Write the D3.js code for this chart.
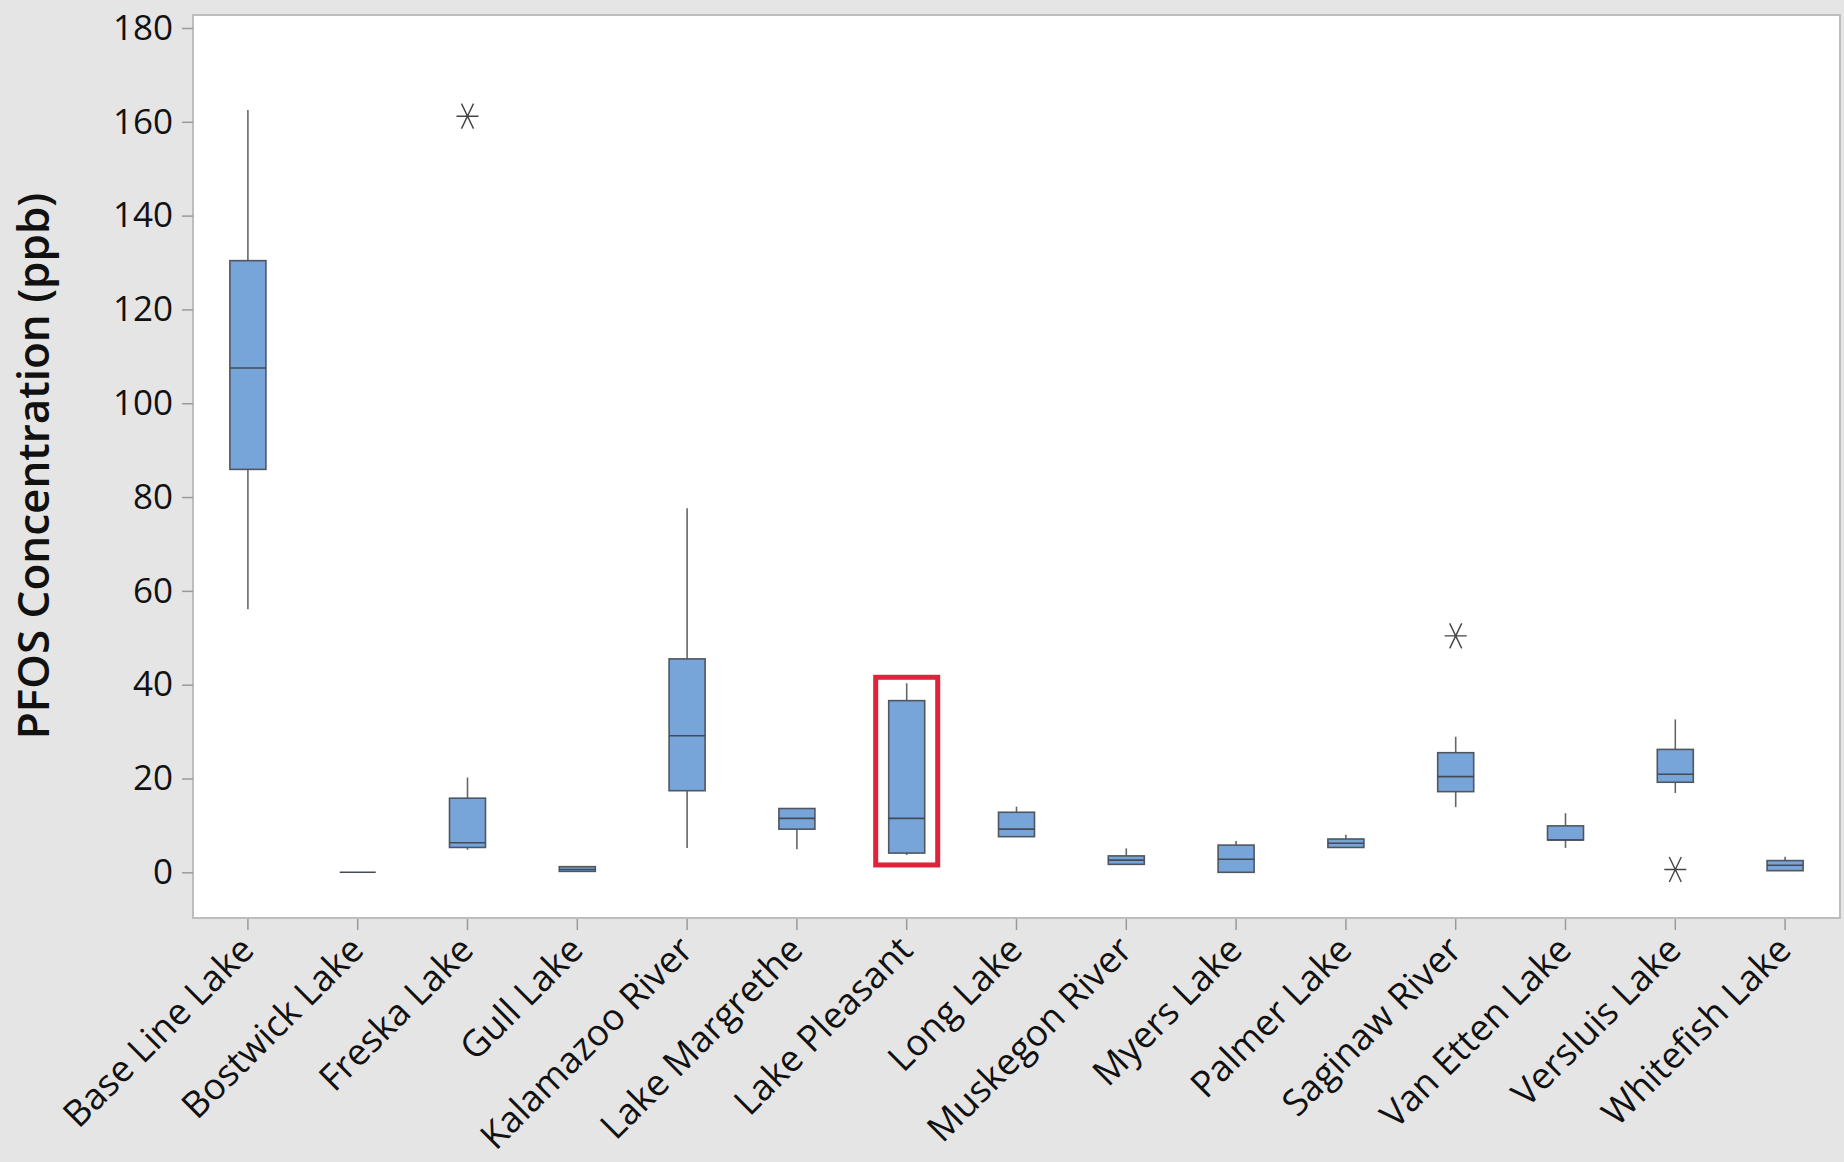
<!DOCTYPE html>
<html>
<head>
<meta charset="utf-8">
<script src="https://cdn.jsdelivr.net/npm/d3@7"></script>
<style>
  html, body { margin: 0; padding: 0; background: #e5e5e5; }
  svg { display: block; font-family: "Open Sans", "Noto Sans", sans-serif; }
</style>
</head>
<body>
<svg id="chart" width="1844" height="1162"></svg>
<script>
// Sampling sites
const sites = [
  "Base Line Lake", "Bostwick Lake", "Freska Lake", "Gull Lake", "Kalamazoo River",
  "Lake Margrethe", "Lake Pleasant", "Long Lake", "Muskegon River", "Myers Lake",
  "Palmer Lake", "Saginaw River", "Van Etten Lake", "Versluis Lake", "Whitefish Lake"
];

// Five-number summaries of PFOS concentration (ppb) per site
const whiskerLow  = [56.1, 0, 4.8, 0.2, 5.2, 4.9, 3.7, 7.6, 1.7, 0, 5.3, 13.9, 5.2, 16.9, 0.35];
const q1          = [85.9, 0, 5.3, 0.2, 17.4, 9.2, 4.1, 7.6, 1.7, 0, 5.3, 17.2, 6.9, 19.2, 0.35];
const medians     = [107.5, 0, 6.3, 0.6, 29.1, 11.5, 11.5, 9.2, 2.6, 2.8, 6.2, 20.4, 6.9, 20.9, 1.5];
const q3          = [130.4, 0, 15.8, 1.2, 45.5, 13.6, 36.6, 12.8, 3.5, 5.8, 7.1, 25.5, 9.9, 26.2, 2.5];
const whiskerHigh = [162.5, 0, 20.2, 1.2, 77.6, 13.6, 40.3, 14.0, 5.1, 6.7, 8.0, 28.9, 12.6, 32.6, 3.3];

// Outlying observations: [site, value]
const outliers = [
  ["Freska Lake", 161.2],
  ["Saginaw River", 50.4],
  ["Versluis Lake", 0.6]
];

// Y-axis tick values
const yTicks = [0, 20, 40, 60, 80, 100, 120, 140, 160, 180];

// Highlighted site
const highlighted = "Lake Pleasant";

const svg = d3.select("#chart");
const W = 1844, H = 1162;
const plot = { left: 193, top: 15, right: 1840, bottom: 918 };

svg.append("rect").attr("width", W).attr("height", H).attr("fill", "#e5e5e5");

const x = d3.scaleBand().domain(sites).range([plot.left, plot.right]).padding(0);
const y = d3.scaleLinear().domain([-9.74, 182.77]).range([plot.bottom, plot.top]);

// Plot area
svg.append("rect")
  .attr("x", plot.left).attr("y", plot.top)
  .attr("width", plot.right - plot.left).attr("height", plot.bottom - plot.top)
  .attr("fill", "#ffffff").attr("stroke", "#bdbdbd").attr("stroke-width", 2);

// Y axis
const yAxis = svg.append("g")
  .attr("transform", `translate(${plot.left},0)`)
  .call(d3.axisLeft(y).tickValues(yTicks).tickSize(11).tickSizeOuter(0).tickPadding(9));
yAxis.select(".domain").remove();
yAxis.selectAll(".tick line").attr("stroke", "#9a9a9a").attr("stroke-width", 1.5);
yAxis.selectAll(".tick text")
  .attr("fill", "#111").attr("font-size", 35).attr("font-family", "'Open Sans', sans-serif");

// X axis
const xAxis = svg.append("g")
  .attr("transform", `translate(0,${plot.bottom + 1})`)
  .call(d3.axisBottom(x).tickSize(11).tickSizeOuter(0));
xAxis.select(".domain").remove();
xAxis.selectAll(".tick line").attr("stroke", "#9a9a9a").attr("stroke-width", 1.5);
xAxis.selectAll(".tick text")
  .attr("fill", "#111").attr("font-size", 36.5).attr("font-family", "'Open Sans', sans-serif")
  .attr("text-anchor", "end")
  .attr("x", 0).attr("y", 0).attr("dy", "0.35em")
  .attr("transform", "translate(-1,24) rotate(-45)");

// Y-axis title
svg.append("text")
  .attr("transform", `translate(49,466) rotate(-90)`)
  .attr("text-anchor", "middle")
  .attr("font-size", 44).attr("font-weight", 600).attr("fill", "#111")
  .text("PFOS Concentration (ppb)");

// Box plots
const boxW = 36;
const stats = sites.map((s, i) => ({
  site: s, lo: whiskerLow[i], q1: q1[i], med: medians[i], q3: q3[i], hi: whiskerHigh[i]
}));

const g = svg.append("g");
const boxes = g.selectAll("g.box").data(stats).join("g").attr("class", "box");
const cx = d => x(d.site) + x.bandwidth() / 2;

boxes.append("line")
  .attr("x1", cx).attr("x2", cx)
  .attr("y1", d => y(d.q3)).attr("y2", d => y(d.hi))
  .attr("stroke", "#666").attr("stroke-width", 1.6);
boxes.append("line")
  .attr("x1", cx).attr("x2", cx)
  .attr("y1", d => y(d.q1)).attr("y2", d => y(d.lo))
  .attr("stroke", "#666").attr("stroke-width", 1.6);
boxes.append("rect")
  .attr("x", d => cx(d) - boxW / 2).attr("width", boxW)
  .attr("y", d => y(d.q3)).attr("height", d => y(d.q1) - y(d.q3))
  .attr("fill", "#78a5d9").attr("stroke", "#4f5660").attr("stroke-width", 1.6);
boxes.append("line")
  .attr("x1", d => cx(d) - boxW / 2).attr("x2", d => cx(d) + boxW / 2)
  .attr("y1", d => y(d.med)).attr("y2", d => y(d.med))
  .attr("stroke", "#454b55").attr("stroke-width", 1.6);

// Outlier asterisks
const star = "M-11,0H11M-6,-12.5L6,12.5M6,-12.5L-6,12.5";
g.selectAll("path.outlier").data(outliers).join("path")
  .attr("class", "outlier")
  .attr("d", star)
  .attr("transform", d => `translate(${x(d[0]) + x.bandwidth() / 2},${y(d[1])})`)
  .attr("fill", "none").attr("stroke", "#444").attr("stroke-width", 1.4);

// Highlight frame around one site
const hi = stats.find(d => d.site === highlighted);
svg.append("rect")
  .attr("x", cx(hi) - 31).attr("width", 62)
  .attr("y", y(hi.hi) - 6).attr("height", (y(hi.lo) + 10) - (y(hi.hi) - 6))
  .attr("fill", "none").attr("stroke", "#e2213b").attr("stroke-width", 5);
</script>
</body>
</html>
